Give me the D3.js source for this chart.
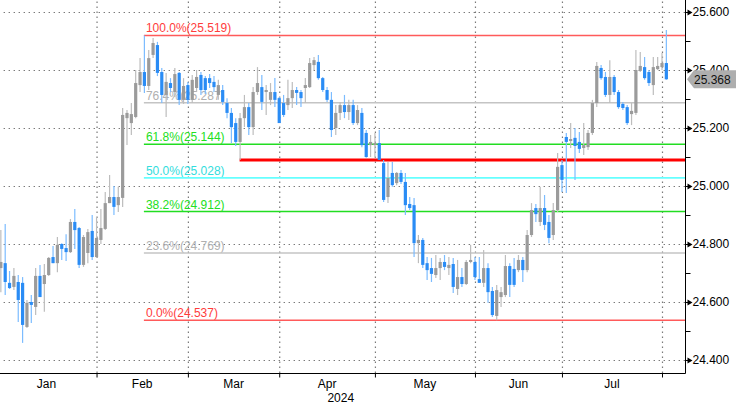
<!DOCTYPE html>
<html><head><meta charset="utf-8">
<script src="https://cdn.jsdelivr.net/npm/d3@7/dist/d3.min.js"></script>
<style>body{margin:0;background:#fff}svg{display:block}</style>
</head><body>
<svg id="chart" width="736" height="404"></svg>
<script>
// ---- data (EUR/CZK daily candles, 2024-01-01 .. 2024-08-02, weekdays) ----
const openV = [24.720,24.717,24.734,24.666,24.652,24.669,24.666,24.514,24.600,24.583,24.690,24.662,24.693,24.755,24.734,24.800,24.786,24.772,24.876,24.855,24.728,24.769,24.845,24.755,24.814,24.852,24.941,24.962,24.934,24.959,
25.234,25.217,25.238,25.348,25.393,25.345,25.452,25.486,25.393,25.314,25.355,25.324,25.390,25.297,25.348,25.297,25.338,25.383,25.372,25.372,25.359,25.314,25.331,25.286,25.252,25.217,25.152,25.234,25.272,25.203,
25.324,25.341,25.324,25.297,25.324,25.303,25.286,25.279,25.303,25.331,25.324,25.338,25.341,25.417,25.428,25.372,25.331,25.297,25.200,25.252,25.279,25.255,25.279,25.217,25.252,25.183,25.141,25.141,25.148,25.079,
24.962,25.045,25.010,25.045,25.014,24.938,24.934,24.803,24.814,24.734,24.717,24.693,24.717,24.738,24.717,24.731,24.645,24.686,24.662,24.738,24.738,24.679,24.666,24.717,24.638,24.552,24.617,24.624,24.724,24.714,
24.710,24.745,24.710,24.831,24.924,24.876,24.924,24.876,24.831,24.917,25.072,25.169,25.155,25.166,25.152,25.131,25.134,25.183,25.286,25.407,25.376,25.314,25.376,25.324,25.283,25.272,25.248,25.252,25.397,25.410,
25.393,25.348,25.403,25.410,25.424];
const highV = [24.750,24.848,24.869,24.707,24.717,24.693,24.686,24.607,24.624,24.717,24.728,24.731,24.755,24.793,24.824,24.803,24.834,24.886,24.921,24.859,24.831,24.852,24.900,24.893,24.921,24.979,25.038,25.000,24.997,25.269,
25.262,25.286,25.400,25.441,25.519,25.469,25.510,25.497,25.407,25.390,25.372,25.407,25.393,25.372,25.359,25.383,25.400,25.393,25.379,25.386,25.379,25.366,25.348,25.303,25.269,25.234,25.252,25.314,25.286,25.341,
25.410,25.383,25.348,25.355,25.372,25.307,25.314,25.366,25.359,25.341,25.331,25.372,25.441,25.445,25.452,25.376,25.341,25.324,25.279,25.290,25.314,25.297,25.297,25.279,25.269,25.193,25.176,25.183,25.193,25.090,
25.083,25.083,25.048,25.055,25.045,24.962,24.959,24.831,24.821,24.755,24.752,24.762,24.752,24.762,24.755,24.752,24.745,24.717,24.745,24.797,24.755,24.755,24.779,24.734,24.652,24.659,24.652,24.762,24.734,24.752,
24.762,24.755,24.848,24.941,24.938,24.997,24.969,24.900,24.941,25.114,25.090,25.183,25.217,25.200,25.186,25.217,25.193,25.297,25.428,25.417,25.393,25.434,25.383,25.331,25.290,25.279,25.286,25.469,25.462,25.445,
25.400,25.445,25.445,25.459,25.538];
const lowV = [24.700,24.634,24.624,24.645,24.641,24.531,24.459,24.510,24.528,24.555,24.617,24.566,24.690,24.734,24.703,24.745,24.741,24.769,24.783,24.717,24.721,24.734,24.745,24.752,24.800,24.848,24.941,24.900,24.910,24.928,
25.141,25.176,25.234,25.324,25.321,25.331,25.441,25.379,25.286,25.238,25.324,25.307,25.279,25.283,25.283,25.286,25.324,25.314,25.317,25.338,25.324,25.297,25.279,25.234,25.148,25.138,25.090,25.203,25.176,25.176,
25.314,25.262,25.245,25.279,25.272,25.217,25.238,25.262,25.269,25.279,25.272,25.286,25.338,25.400,25.366,25.324,25.290,25.169,25.176,25.228,25.234,25.228,25.210,25.210,25.134,25.097,25.100,25.097,25.090,24.945,
24.941,24.997,25.003,25.007,24.900,24.917,24.755,24.734,24.717,24.676,24.669,24.683,24.676,24.710,24.693,24.631,24.624,24.652,24.659,24.734,24.676,24.666,24.652,24.597,24.548,24.537,24.583,24.617,24.617,24.652,
24.703,24.669,24.703,24.824,24.876,24.862,24.848,24.803,24.814,24.910,24.979,24.976,25.131,25.021,25.114,25.107,25.124,25.176,25.272,25.366,25.307,25.286,25.314,25.266,25.262,25.210,25.210,25.245,25.393,25.366,
25.345,25.314,25.400,25.400,25.366];
const closeV = [24.740,24.738,24.669,24.648,24.690,24.607,24.521,24.597,24.590,24.690,24.617,24.693,24.752,24.734,24.797,24.783,24.772,24.876,24.848,24.728,24.824,24.841,24.755,24.821,24.855,24.941,24.962,24.928,24.962,25.245,
25.252,25.248,25.355,25.393,25.345,25.441,25.493,25.390,25.314,25.359,25.338,25.386,25.297,25.345,25.297,25.366,25.376,25.331,25.331,25.355,25.341,25.348,25.290,25.252,25.203,25.152,25.234,25.272,25.203,25.324,
25.355,25.290,25.331,25.324,25.297,25.217,25.245,25.303,25.331,25.321,25.303,25.348,25.424,25.434,25.372,25.331,25.297,25.193,25.252,25.279,25.255,25.279,25.217,25.262,25.141,25.100,25.152,25.148,25.090,24.952,
25.028,25.003,25.045,25.014,24.934,24.924,24.803,24.814,24.728,24.710,24.697,24.717,24.738,24.721,24.728,24.652,24.686,24.662,24.738,24.745,24.686,24.666,24.717,24.634,24.555,24.641,24.634,24.724,24.659,24.659,
24.745,24.710,24.831,24.917,24.903,24.924,24.866,24.821,24.917,25.066,25.021,25.152,25.162,25.138,25.128,25.141,25.183,25.286,25.414,25.372,25.314,25.376,25.324,25.272,25.269,25.217,25.259,25.400,25.414,25.372,
25.355,25.410,25.414,25.424,25.368];

const yTickValues = [24.4, 24.6, 24.8, 25.0, 25.2, 25.4, 25.6];
const yMinorValues = [24.5, 24.7, 24.9, 25.1, 25.3, 25.5];
const monthLabels = ["Jan","Feb","Mar","Apr","May","Jun","Jul"];
const yearLabel = "2024";
const fibPct = ["100.0%","76.4%","61.8%","50.0%","38.2%","23.6%","0.0%"];
const fibValues = [25.519, 25.287, 25.144, 25.028, 24.912, 24.769, 24.537];
const fibColors = ["#ff5a5a","#c4c4c4","#22dd22","#66ffff","#22dd22","#c4c4c4","#ff5a5a"];
const fibTextColors = ["#ff3c3c","#b0b0b0","#22e022","#33dddd","#22e022","#b0b0b0","#ff3c3c"];
const supportLevel = 25.090;
const lastPrice = 25.368;

// ---- build dates (weekdays) ----
const days = d3.timeDay.range(new Date(2024,0,1), new Date(2024,7,3)).filter(d => d.getDay() !== 0 && d.getDay() !== 6);
const candles = days.map((d,i) => ({date:d, i, o:openV[i], h:highV[i], l:lowV[i], c:closeV[i]}));
const monthStarts = [];
days.forEach((d,i) => { if (i === 0 || d.getMonth() !== days[i-1].getMonth()) monthStarts.push(i); });

// ---- layout ----
const W = 736, H = 404;
const plotRight = 685, axisY = 373;
const x = d3.scaleLinear().domain([0, 153]).range([-3.5, 662]);
const y = d3.scaleLinear().domain([24.4, 25.6]).range([360, 12]);

const svg = d3.select("#chart");
svg.append("defs").append("clipPath").attr("id","clip")
  .append("rect").attr("x",0).attr("y",0).attr("width",plotRight).attr("height",axisY);

const plot = svg.append("g").attr("clip-path","url(#clip)");

// gridlines (horizontal)
plot.append("g")
  .attr("transform",`translate(${plotRight},0)`)
  .call(d3.axisLeft(y).tickValues(yTickValues).tickSize(plotRight).tickFormat(""))
  .call(g => g.select(".domain").remove())
  .call(g => g.selectAll("line").attr("stroke","#7a7a7a").attr("stroke-dasharray","1.4,3.6").attr("stroke-width",1.2));

// gridlines (vertical) at month starts
const gridIdx = monthStarts.filter(i => i > 0);
plot.append("g")
  .attr("transform",`translate(0,${axisY})`)
  .call(d3.axisTop(x).tickValues(gridIdx).tickSize(axisY).tickFormat(""))
  .call(g => g.select(".domain").remove())
  .call(g => g.selectAll("line").attr("stroke","#7a7a7a").attr("stroke-dasharray","1.4,3.6").attr("stroke-width",1.2));

// fib labels
const fibStartX = x(34) - 0.5;
plot.append("g").selectAll("text").data(fibValues).join("text")
  .attr("x", fibStartX + 2)
  .attr("y", d => y(d) - 3)
  .attr("fill", (d,i) => fibTextColors[i])
  .attr("font-family","Liberation Sans, Arial, sans-serif")
  .attr("font-size","12px")
  .text((d,i) => `${fibPct[i]}(${d.toFixed(3)})`);

// fib lines
plot.append("g").selectAll("line").data(fibValues).join("line")
  .attr("x1", fibStartX).attr("x2", plotRight)
  .attr("y1", d => y(d)).attr("y2", d => y(d))
  .attr("stroke", (d,i) => fibColors[i])
  .attr("stroke-width", 1.6);

// support line (thick red)
plot.append("line")
  .attr("x1", x(56) - 0.5).attr("x2", plotRight)
  .attr("y1", y(supportLevel)).attr("y2", y(supportLevel))
  .attr("stroke","#ff0000").attr("stroke-width",3);

// candles
const up = d => d.c >= d.o;
const cg = plot.append("g").selectAll("g").data(candles).join("g");
cg.append("line")
  .attr("x1", d => x(d.i)).attr("x2", d => x(d.i))
  .attr("y1", d => y(d.h)).attr("y2", d => y(d.l))
  .attr("stroke", d => up(d) ? "#bdbdbd" : "#7cbcff")
  .attr("stroke-width", 1.2);
cg.append("rect")
  .attr("x", d => x(d.i) - 1.6)
  .attr("width", 3.2)
  .attr("y", d => y(Math.max(d.o,d.c)))
  .attr("height", d => Math.max(1, Math.abs(y(d.o) - y(d.c))))
  .attr("fill", d => up(d) ? "#9b9b9b" : "#2a8cf5");

// ---- axes ----
// right axis line
svg.append("line").attr("x1",plotRight+0.5).attr("x2",plotRight+0.5).attr("y1",0).attr("y2",axisY+0.5)
  .attr("stroke","#000").attr("stroke-width",1);
// bottom axis line
svg.append("line").attr("x1",0).attr("x2",plotRight+0.5).attr("y1",axisY+0.5).attr("y2",axisY+0.5)
  .attr("stroke","#000").attr("stroke-width",1);

// y minor ticks
svg.append("g").attr("transform",`translate(${plotRight+0.5},0)`)
  .call(d3.axisRight(y).tickValues(yMinorValues).tickSize(5).tickFormat(""))
  .call(g => g.select(".domain").remove())
  .call(g => g.selectAll("line").attr("stroke","#000"));

// y major ticks + labels
const yAxis = svg.append("g").attr("transform",`translate(${plotRight+0.5},0)`)
  .call(d3.axisRight(y).tickValues(yTickValues).tickSize(0).tickPadding(7).tickFormat(d3.format(".3f")))
  .call(g => g.select(".domain").remove());
yAxis.selectAll("text").attr("font-family","Liberation Sans, Arial, sans-serif").attr("font-size","12px").attr("fill","#000");
yAxis.selectAll(".tick").append("path").attr("d","M0,-0.5H2L2,-3L7,0L2,3L2,0.5H0Z").attr("fill","#000");

// x ticks
svg.append("g").attr("transform",`translate(0,${axisY+0.5})`)
  .call(d3.axisBottom(x).tickValues(gridIdx).tickSize(4).tickFormat(""))
  .call(g => g.select(".domain").remove())
  .call(g => g.selectAll("line").attr("stroke","#000"));

// month labels centred in each month
const bounds = monthStarts.concat([153]);
svg.append("g").selectAll("text").data(monthLabels).join("text")
  .attr("x", (d,k) => (x(bounds[k]) + x(bounds[k+1])) / 2)
  .attr("y", 388)
  .attr("text-anchor","middle")
  .attr("font-family","Liberation Sans, Arial, sans-serif")
  .attr("font-size","12px")
  .attr("fill","#000")
  .text(d => d);
svg.append("text").attr("x", (x(0) + plotRight)/2).attr("y", 402)
  .attr("text-anchor","middle").attr("font-family","Liberation Sans, Arial, sans-serif")
  .attr("font-size","12px").attr("fill","#000").text(yearLabel);

// last price tag
const ly = y(lastPrice);
svg.append("path")
  .attr("d", `M${plotRight+2},${ly} L${plotRight+9},${ly-9} H${W} V${ly+9} H${plotRight+9} Z`)
  .attr("fill","#aeaeae");
svg.append("text").attr("x", plotRight+9).attr("y", ly).attr("dy","0.36em")
  .attr("font-family","Liberation Sans, Arial, sans-serif").attr("font-size","12px").attr("fill","#111")
  .text(lastPrice.toFixed(3));
</script>
</body></html>
